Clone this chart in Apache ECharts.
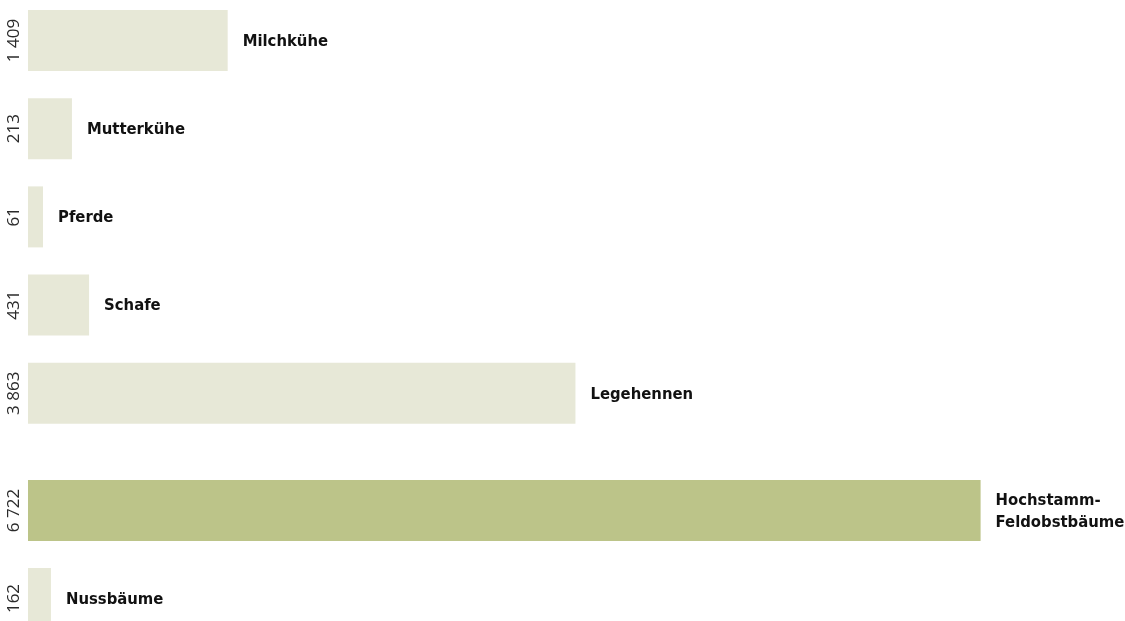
<!DOCTYPE html>
<html>
<head>
<meta charset="utf-8">
<script src="https://cdn.jsdelivr.net/npm/echarts@6/dist/echarts.min.js"></script>
<style>
  html, body { margin: 0; padding: 0; background: #fff; }
  #chart { width: 1125px; height: 621px; }
</style>
</head>
<body>
<div id="chart"></div>
<script>
// Tiere (oberer Block) und Bäume (unterer Block)
var animalNames = ["Milchkühe", "Mutterkühe", "Pferde", "Schafe", "Legehennen"];
var animalLabels = ["1 409", "213", "61", "431", "3 863"];
var animalBars = [1409, 310, 106, 431, 3863];   // Balkenlänge wie im Bild gezeichnet

var treeNames = ["Hochstamm-\nFeldobstbäume", "Nussbäume"];
var treeLabels = ["6 722", "162"];
var treeBars = [6722, 162];

var LIGHT = "#e7e8d7";
var GREEN = "#bcc489";

var chart = echarts.init(document.getElementById("chart"));

var makeData = function(names, bars, colors){
	var out = [];
	for (var i = 0; i < bars.length; i++) {
		out.push({ value: bars[i], name: names[i], itemStyle: { color: colors[i] } });
	}
	return out;
};

var yAxisBase = function(idx, labels){
	return {
		type: "category",
		gridIndex: idx,
		inverse: true,
		data: labels,
		axisLine: { show: false },
		axisTick: { show: false },
		axisLabel: {
			rotate: 90,
			margin: 5,
			fontFamily: "Open Sans",
			fontSize: 17,
			color: "#2a2a2a"
		}
	};
};

var xAxisBase = function(idx){
	return {
		type: "value",
		gridIndex: idx,
		min: 0,
		max: 7000,
		show: false
	};
};

var labelStyle = {
	show: true,
	position: "right",
	distance: 15,
	offset: [0, 1],
	formatter: function(p){ return p.name; },
	fontFamily: "DejaVu Sans Condensed",
	fontWeight: "bold",
	fontSize: 16.5,
	lineHeight: 22,
	color: "#111"
};

chart.setOption({
	animation: false,
	grid: [
		{ left: 28, width: 992, top: -3.6, height: 441, outerBoundsMode: "none", containLabel: false },
		{ left: 28, width: 992, top: 466.5, height: 176, outerBoundsMode: "none", containLabel: false }
	],
	xAxis: [xAxisBase(0), xAxisBase(1)],
	yAxis: [yAxisBase(0, animalLabels), yAxisBase(1, treeLabels)],
	series: [
		{
			type: "bar",
			xAxisIndex: 0,
			yAxisIndex: 0,
			barWidth: 61,
			data: makeData(animalNames, animalBars, [LIGHT, LIGHT, LIGHT, LIGHT, LIGHT]),
			label: labelStyle
		},
		{
			type: "bar",
			xAxisIndex: 1,
			yAxisIndex: 1,
			barWidth: 61,
			data: makeData(treeNames, treeBars, [GREEN, LIGHT]),
			label: labelStyle
		}
	]
});
</script>
</body>
</html>
